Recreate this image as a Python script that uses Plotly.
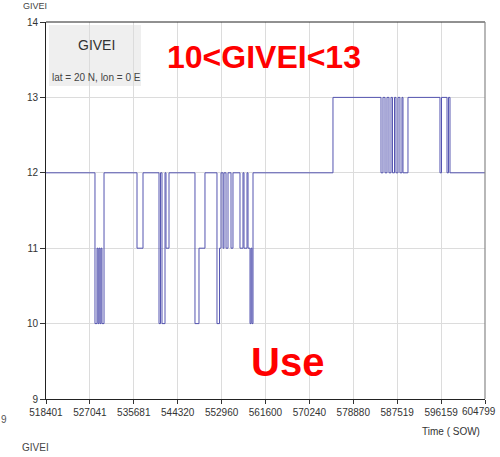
import plotly.graph_objects as go

# GIVEI step series: switch times (SOW) and the level that starts at each one
sow = [518401, 528040, 528440, 528640, 528830, 529030, 529230, 529420, 529820,
       536310, 537490, 540640, 540940, 541230, 541820, 542020, 542610,
       547720, 548510, 549690, 552050, 552550, 552840, 553240, 553430, 553830,
       554220, 554810, 555200, 556580, 557170, 557370, 557960, 558160, 558550,
       558750, 558940, 559140, 574880, 584330, 584720, 585120, 585510, 585900,
       586300, 586590, 586990, 587280, 587680, 588060, 588460, 588660, 589640,
       595940, 596240, 597320, 597610, 597910, 604799]
givei = [12, 10, 11, 10, 11, 10, 11, 10, 12,
         11, 12, 10, 12, 10, 12, 11, 12,
         10, 11, 12, 10, 11, 12, 11, 12, 11,
         12, 11, 12, 11, 12, 11, 12, 11, 10,
         11, 10, 12, 13, 12, 13, 12, 13, 12,
         13, 12, 13, 12, 13, 12, 13, 12, 13,
         12, 13, 12, 13, 12, 12]

x_ticks = [518401, 527041, 535681, 544320, 552960, 561600, 570240, 578880,
           587519, 596159, 604799]
y_ticks = [9, 10, 11, 12, 13, 14]

narrow = "Liberation Sans Narrow, Arial Narrow, Liberation Sans, sans-serif"
PW, PH, L, T = 439, 377, 46, 22   # plot-area size and offsets in px


def px(x):
    return (x - L) / PW


def py(y):
    return 1 - (y - T) / PH


# the last tick label sits at the page edge, so it is placed as an annotation
x_ticktext = [str(v) for v in x_ticks[:-1]] + [""]

fig = go.Figure()
fig.add_trace(go.Scatter(
    x=sow, y=givei, mode="lines", line_shape="hv",
    line=dict(color="rgb(84,84,176)", width=1),
    showlegend=False, hoverinfo="skip",
))

fig.update_layout(
    width=500, height=457,
    margin=dict(l=L, r=500 - L - PW, t=T, b=457 - T - PH),
    paper_bgcolor="white", plot_bgcolor="white",
    font=dict(family=narrow, size=10, color="#333"),
    xaxis=dict(
        range=[x_ticks[0] - 0.5, x_ticks[-1] + 0.5], tickvals=x_ticks,
        ticktext=x_ticktext,
        showgrid=True, gridcolor="#dcdcdc", gridwidth=1,
        showline=True, linecolor="#222", linewidth=1,
        ticks="outside", ticklen=4, tickcolor="#333",
        automargin=False,
        zeroline=False, tickfont=dict(family=narrow, size=10, color="#333"),
    ),
    yaxis=dict(
        range=[9, 14], tickvals=y_ticks, automargin=False,
        showgrid=True, gridcolor="#dcdcdc", gridwidth=1,
        showline=True, linecolor="#222", linewidth=1,
        ticks="outside", ticklen=5, tickcolor="#333",
        zeroline=False, tickfont=dict(family=narrow, size=10, color="#333"),
    ),
    shapes=[
        # frame: top and right edges
        dict(type="line", xref="paper", yref="paper", x0=0, x1=1, y0=1, y1=1,
             line=dict(color="#222", width=1)),
        dict(type="line", xref="paper", yref="paper", x0=1, x1=1, y0=0, y1=1,
             line=dict(color="#888", width=1.2)),
        # legend panel
        dict(type="rect", xref="paper", yref="paper",
             x0=px(49), x1=px(141), y0=py(86), y1=py(25),
             fillcolor="#efefef", line=dict(width=0), layer="below"),
    ],
    annotations=[
        dict(text=str(x_ticks[-1]), xref="paper", yref="paper",
             x=px(498), y=py(411.5), showarrow=False,
             font=dict(family=narrow, size=10, color="#333"),
             xanchor="right", yanchor="middle"),
        dict(text="GIVEI", xref="paper", yref="paper", x=px(96), y=py(45),
             showarrow=False, font=dict(family=narrow, size=14, color="#333"),
             xanchor="center", yanchor="middle"),
        dict(text="lat = 20 N, lon = 0 E", xref="paper", yref="paper",
             x=px(96), y=py(77), showarrow=False,
             font=dict(family=narrow, size=10, color="#444"),
             xanchor="center", yanchor="middle"),
        dict(text="<b>10<GIVEI<13</b>", xref="paper", yref="paper",
             x=px(264), y=py(57), showarrow=False,
             font=dict(family="Liberation Sans, Arial, sans-serif", size=32, color="#ff0000"),
             xanchor="center", yanchor="middle"),
        dict(text="<b>Use</b>", xref="paper", yref="paper",
             x=px(287), y=py(362), showarrow=False,
             font=dict(family="Liberation Sans, Arial, sans-serif", size=40, color="#ff0000"),
             xanchor="center", yanchor="middle"),
        dict(text="Time ( SOW)", xref="paper", yref="paper",
             x=px(451), y=py(431), showarrow=False,
             font=dict(family=narrow, size=10, color="#333"),
             xanchor="center", yanchor="middle"),
        dict(text="GIVEI", xref="paper", yref="paper",
             x=px(35), y=py(6), showarrow=False,
             font=dict(family=narrow, size=9, color="#444"),
             xanchor="center", yanchor="middle"),
        dict(text="GIVEI", xref="paper", yref="paper",
             x=px(35), y=py(447), showarrow=False,
             font=dict(family=narrow, size=10, color="#444"),
             xanchor="center", yanchor="middle"),
        dict(text="9", xref="paper", yref="paper",
             x=px(4), y=py(419), showarrow=False,
             font=dict(family=narrow, size=10, color="#555"),
             xanchor="center", yanchor="middle"),
    ],
)

fig.write_html("out.html")
